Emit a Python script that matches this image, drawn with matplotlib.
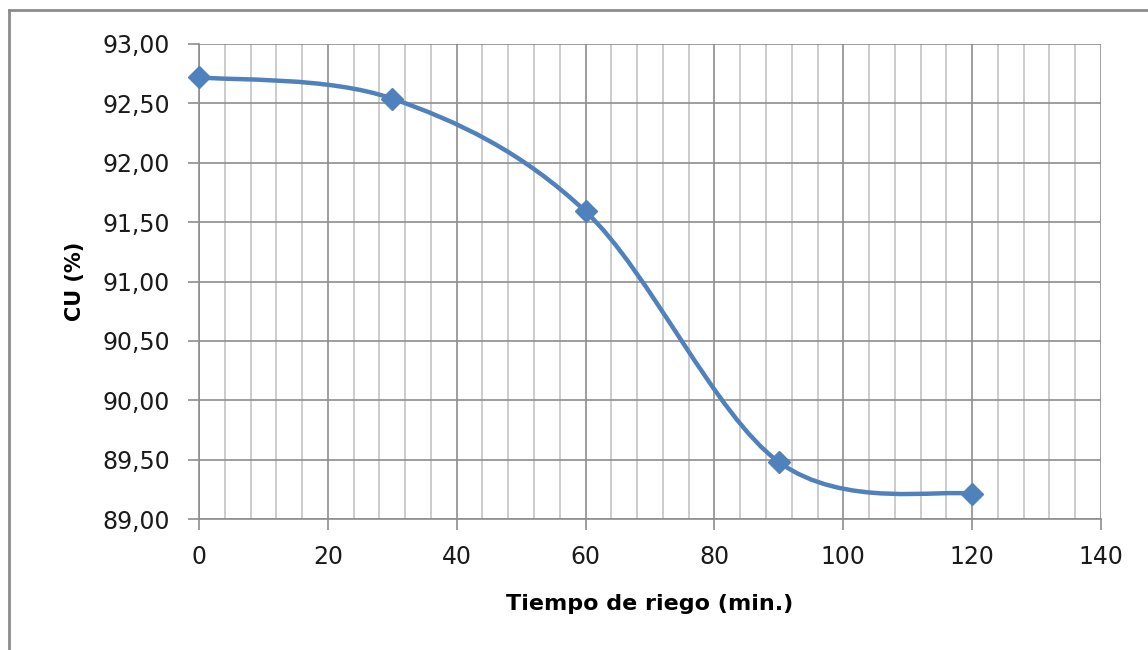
import matplotlib.pyplot as plt
import matplotlib.ticker as mticker
from matplotlib.path import Path
from matplotlib.patches import PathPatch
from matplotlib.lines import Line2D
import numpy as np

tiempo = [0, 30, 60, 90, 120]
cu = [92.72, 92.54, 91.59, 89.48, 89.21]

x_label = "Tiempo de riego (min.)"
y_label = "CU (%)"

blue = "#4F81BD"
grid_major = "#8E8E8E"
grid_minor = "#C4C4C4"

plt.rcParams['font.family'] = ['DejaVu Sans']

fig = plt.figure(figsize=(11.48, 6.5), dpi=100)
ax = fig.add_axes([199 / 1148, 1 - 519 / 650, (1101 - 199) / 1148, (519 - 44) / 650])

# smoothed line like Excel (Catmull-Rom -> cubic Bezier)
pts = np.column_stack([tiempo, cu]).astype(float)
verts = [pts[0]]
codes = [Path.MOVETO]
n = len(pts)
for i in range(n - 1):
    p0 = pts[i - 1] if i > 0 else pts[i]
    p1 = pts[i]
    p2 = pts[i + 1]
    p3 = pts[i + 2] if i + 2 < n else pts[i + 1]
    c1 = p1 + (p2 - p0) / 6
    c2 = p2 - (p3 - p1) / 6
    verts += [c1, c2, p2]
    codes += [Path.CURVE4] * 3
curve = PathPatch(Path(verts, codes), facecolor='none', edgecolor=blue,
                  lw=3.2, capstyle='round', joinstyle='round', zorder=3)
ax.add_patch(curve)
ax.plot(tiempo, cu, linestyle='none', marker='D', markersize=11,
        color=blue, markeredgecolor=blue, zorder=4, clip_on=False)

ax.set_xlim(0, 140)
ax.set_ylim(89, 93)
ax.xaxis.set_major_locator(mticker.MultipleLocator(20))
ax.xaxis.set_minor_locator(mticker.MultipleLocator(4))
ax.yaxis.set_major_locator(mticker.MultipleLocator(0.5))
ax.yaxis.set_major_formatter(mticker.FuncFormatter(lambda v, p: f"{v:.2f}".replace('.', ',')))

ax.grid(which='major', axis='both', color=grid_major, lw=1.2, zorder=1)
ax.grid(which='minor', axis='x', color=grid_minor, lw=1.2, zorder=1)
ax.set_axisbelow(True)

for s in ['top', 'right']:
    ax.spines[s].set_visible(False)
for s in ['left', 'bottom']:
    ax.spines[s].set_color(grid_major)
    ax.spines[s].set_linewidth(1.2)

ax.tick_params(which='major', direction='out', length=8, width=1.2, color=grid_major,
               labelsize=17, labelcolor='#1a1a1a')
ax.tick_params(axis='y', pad=13)
ax.tick_params(axis='x', pad=11)
ax.tick_params(which='minor', length=0)

ax.set_xlabel(x_label, fontsize=16, fontweight='bold', labelpad=18)
ax.set_ylabel(y_label, fontsize=15, fontweight='bold', labelpad=12)

# chart area border (left and top visible)
fig.add_artist(Line2D([9 / 1148, 9 / 1148], [0, 1 - 10 / 650], color='#8C8C8C', lw=2))
fig.add_artist(Line2D([9 / 1148, 1], [1 - 10 / 650, 1 - 10 / 650], color='#8C8C8C', lw=2))

fig.savefig('out.png', dpi=100)
